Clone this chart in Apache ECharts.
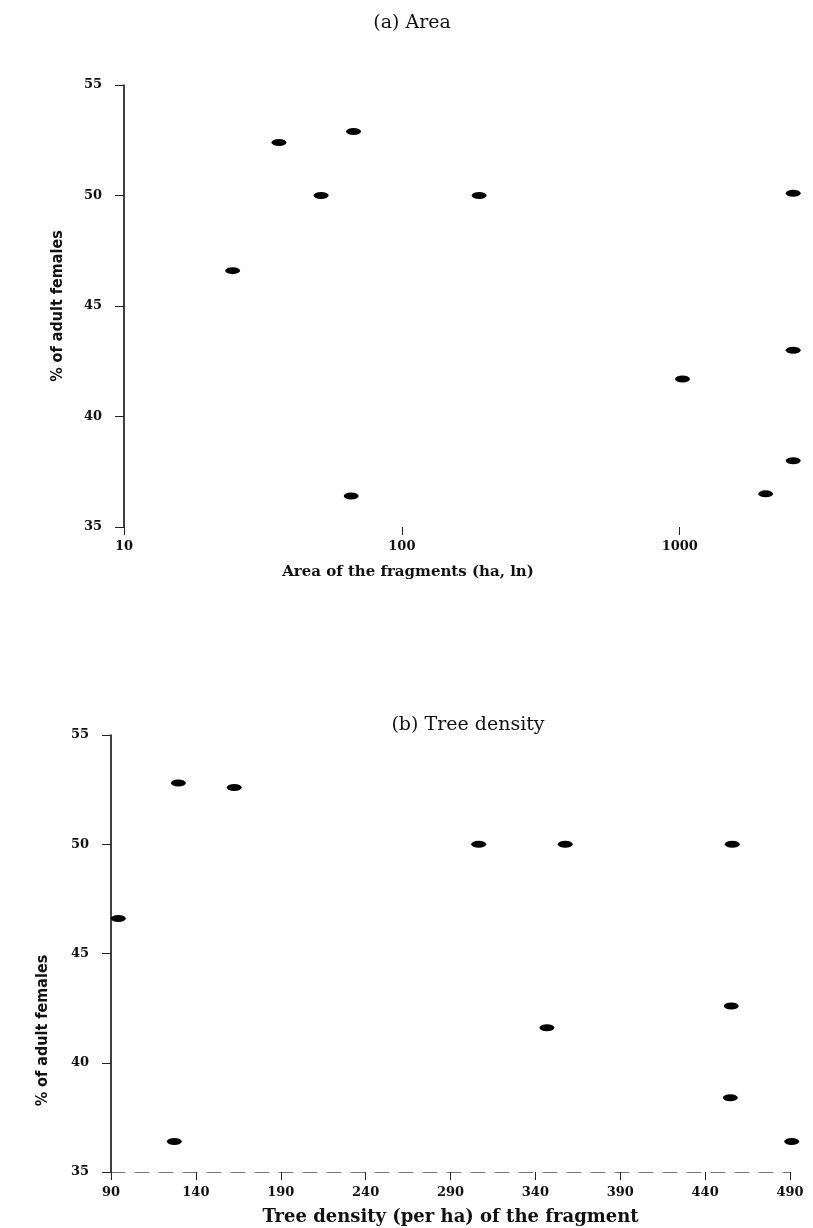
<!DOCTYPE html>
<html><head><meta charset="utf-8">
<script src="https://cdn.jsdelivr.net/npm/echarts@6/dist/echarts.min.js"></script>
<style>html,body{margin:0;padding:0;background:#fff}#c{width:813px;height:1228px}</style>
</head><body><div id="c"></div>
<script>
// Panel (a): area of fragments (ha, log scale) vs % adult females
const areaX = [24.6, 36.1, 51.2, 67.0, 65.7, 189.7, 1023, 2038, 2560, 2560, 2560];
const areaY = [46.6, 52.4, 50.0, 52.9, 36.4, 50.0, 41.7, 36.5, 50.1, 43.0, 38.0];
// Panel (b): tree density (per ha) vs % adult females
const densityX = [94.3, 129.7, 127.3, 162.6, 306.6, 357.6, 346.8, 456, 455.4, 454.8, 491];
const densityY = [46.6, 52.8, 36.4, 52.6, 50.0, 50.0, 41.6, 50.0, 42.6, 38.4, 36.4];
// tick labels
const areaTicks = [10, 100, 1000];
const densityTicks = [90, 140, 190, 240, 290, 340, 390, 440, 490];
const pctTicks = [35, 40, 45, 50, 55];
const titles = ['(a) Area', '(b) Tree density'];
const xNames = ['Area of the fragments (ha, ln)', 'Tree density (per ha) of the fragment'];
const yName = '% of adult females';

const lblFont = {fontFamily: 'DejaVu Serif', fontWeight: 'bold', fontSize: 13, color: '#111'};
const yNameStyle = {fontFamily: 'Liberation Sans Narrow, DejaVu Sans Condensed, sans-serif', fontWeight: 'bold', fontSize: 16, color: '#111'};

function yAx(gi, gap, pad) {
  return {
    type: 'value', gridIndex: gi, min: 35, max: 55, interval: 5,
    name: yName, nameLocation: 'middle', nameGap: gap, nameRotate: 90,
    nameTextStyle: Object.assign({padding: pad}, yNameStyle),
    axisLine: {show: true, lineStyle: {color: '#000', width: 1.5}},
    axisTick: {show: true, inside: false, length: 9, lineStyle: {color: '#222', width: 1}},
    axisLabel: Object.assign({margin: 22, formatter: v => pctTicks.includes(v) ? String(v) : ''}, lblFont),
    splitLine: {show: false}
  };
}

const chart = echarts.init(document.getElementById('c'), null, {renderer: 'canvas'});
chart.setOption({
  backgroundColor: '#fff',
  animation: false,
  title: [
    {text: titles[0], left: 407, top: 9, textAlign: 'center',
     textStyle: {fontFamily: 'DejaVu Serif', fontWeight: 'normal', fontSize: 19, color: '#111'}},
    {text: titles[1], left: 463, top: 711, textAlign: 'center',
     textStyle: {fontFamily: 'DejaVu Serif', fontWeight: 'normal', fontSize: 19, color: '#111'}}
  ],
  grid: [
    {left: 124, top: 85, width: 680, height: 442},
    {left: 111, top: 735, width: 679, height: 437}
  ],
  xAxis: [
    {type: 'log', logBase: 10, gridIndex: 0, min: 10, max: 2800,
     name: xNames[0], nameLocation: 'middle', nameGap: 38,
     nameTextStyle: {fontFamily: 'DejaVu Serif', fontWeight: 'bold', fontSize: 15, color: '#111', padding: [0, 112, 0, 0]},
     axisLine: {show: false},
     axisTick: {show: true, inside: false, length: 8, customValues: areaTicks, lineStyle: {color: '#222'}},
     axisLabel: Object.assign({margin: 13, customValues: areaTicks, formatter: v => String(Math.round(v))}, lblFont),
     splitLine: {show: false}},
    {type: 'value', gridIndex: 1, min: 90, max: 490, interval: 50,
     name: xNames[1], nameLocation: 'middle', nameGap: 36,
     nameTextStyle: {fontFamily: 'DejaVu Serif', fontWeight: 'bold', fontSize: 18, color: '#111'},
     axisLine: {show: true, lineStyle: {color: '#777', width: 1, type: [14, 10]}},
     axisTick: {show: true, inside: false, length: 8, lineStyle: {color: '#222'}},
     axisLabel: Object.assign({margin: 14, formatter: v => densityTicks.includes(v) ? String(v) : ''}, lblFont),
     splitLine: {show: false}}
  ],
  yAxis: [yAx(0, 58, [0, 0, 0, 0]), yAx(1, 60, [0, 154, 0, 0])],
  series: [
    {type: 'scatter', xAxisIndex: 0, yAxisIndex: 0, clip: false,
     symbol: 'circle', symbolSize: [15, 7], itemStyle: {color: '#000', opacity: 1},
     data: areaX.map((x, i) => [x, areaY[i]])},
    {type: 'scatter', xAxisIndex: 1, yAxisIndex: 1, clip: false,
     symbol: 'circle', symbolSize: [15, 7], itemStyle: {color: '#000', opacity: 1},
     data: densityX.map((x, i) => [x, densityY[i]])}
  ]
});
</script></body></html>
